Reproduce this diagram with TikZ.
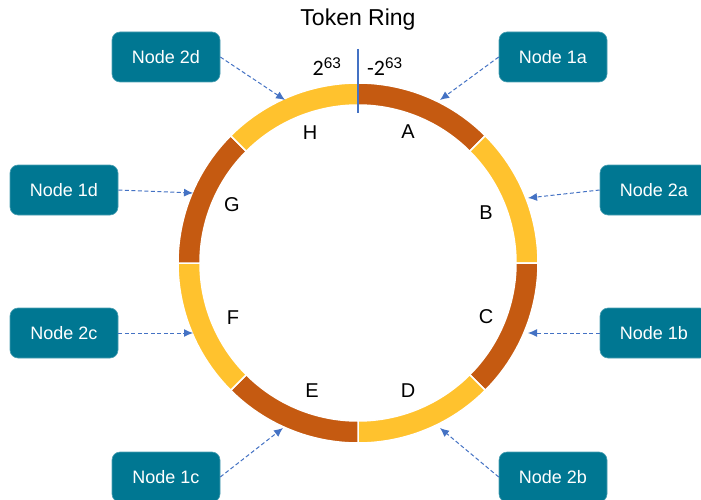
\documentclass[tikz,border=0pt]{standalone}
\usepackage{fontspec}
\setmainfont{Liberation Sans}
\newfontfamily\calfont{Carlito}
\usetikzlibrary{arrows.meta,calc}
\definecolor{ringdark}{RGB}{197,90,17}
\definecolor{ringgold}{RGB}{255,194,46}
\definecolor{boxteal}{RGB}{0,119,146}
\definecolor{arrowblue}{RGB}{68,114,196}
\tikzset{
  hostbox/.style={rectangle, rounded corners=8pt, fill=boxteal, draw=boxteal!70!white, line width=0.6pt,
    minimum width=108pt, minimum height=50pt, inner sep=0pt, text=white, font=\fontsize{18}{20}\selectfont},
  linkarrow/.style={arrowblue, line width=1pt, dash pattern=on 4pt off 2.5pt,
    -{Latex[length=9pt,width=8pt]}},
  seglabel/.style={font=\fontsize{20}{22}\selectfont, text=black},
  segdark/.style={fill=ringdark, draw=white, line width=1.5pt},
  seggold/.style={fill=ringgold, draw=white, line width=1.5pt}
}
\newcommand{\ringseg}[3]{% style, start angle, end angle
  \path[#1] (358,236) ++(#2:180) arc[start angle=#2, end angle=#3, radius=180]
    -- ($(358,236)+(#3:158)$) arc[start angle=#3, end angle=#2, radius=158] -- cycle;}
\begin{document}
\begin{tikzpicture}[x=1pt,y=1pt]
\useasboundingbox (0,0) rectangle (701,499);
\fill[white] (0,0) rectangle (701,499);
% ring
\ringseg{segdark}{90}{45}
\ringseg{seggold}{45}{0}
\ringseg{segdark}{0}{-45}
\ringseg{seggold}{-45}{-90}
\ringseg{segdark}{-90}{-135}
\ringseg{seggold}{-135}{-180}
\ringseg{segdark}{180}{135}
\ringseg{seggold}{135}{90}
% divider
\coordinate (divtop) at (358,450);
\coordinate (divbot) at (358,386);
\draw[arrowblue, line width=1.8pt] (divtop) -- (divbot);
% title
\node[font=\fontsize{23}{26}\selectfont] (title) at (358,479) {Token Ring};
\node[anchor=base, font=\calfont\fontsize{22}{24}\selectfont] (pmax) at (327,423) {2$^{\mathrm{63}}$};
\node[anchor=base, font=\calfont\fontsize{22}{24}\selectfont] (pmin) at (385,423) {-2$^{\mathrm{63}}$};
% segment labels
\node[seglabel] (lH) at (310,366) {H};
\node[seglabel] (lA) at (408,367) {A};
\node[seglabel] (lG) at (232,294) {G};
\node[seglabel] (lB) at (486,286) {B};
\node[seglabel] (lF) at (233,181) {F};
\node[seglabel] (lC) at (486,182) {C};
\node[seglabel] (lE) at (312,108) {E};
\node[seglabel] (lD) at (408,108) {D};
% hosts
\node[hostbox] (n2d) at (166,442) {Node 2d};
\node[hostbox] (n1a) at (553,442) {Node 1a};
\node[hostbox] (n1d) at (64,309) {Node 1d};
\node[hostbox] (n2a) at (654,309) {Node 2a};
\node[hostbox] (n2c) at (64,166) {Node 2c};
\node[hostbox] (n1b) at (654,166) {Node 1b};
\node[hostbox] (n1c) at (166,22) {Node 1c};
\node[hostbox] (n2b) at (553,22) {Node 2b};
% arrow targets on ring
\coordinate (t2d) at (285,399);
\coordinate (t1a) at (440,399);
\coordinate (t1d) at (193,306);
\coordinate (t2a) at (528,301);
\coordinate (t2c) at (193,166);
\coordinate (t1b) at (528,166);
\coordinate (t1c) at (283,71);
\coordinate (t2b) at (440,71);
\draw[linkarrow] (n2d.east) -- (t2d);
\draw[linkarrow] (n1a.west) -- (t1a);
\draw[linkarrow] (n1d.east) -- (t1d);
\draw[linkarrow] (n2a.west) -- (t2a);
\draw[linkarrow] (n2c.east) -- (t2c);
\draw[linkarrow] (n1b.west) -- (t1b);
\draw[linkarrow] (n1c.east) -- (t1c);
\draw[linkarrow] (n2b.west) -- (t2b);
\end{tikzpicture}
\end{document}
